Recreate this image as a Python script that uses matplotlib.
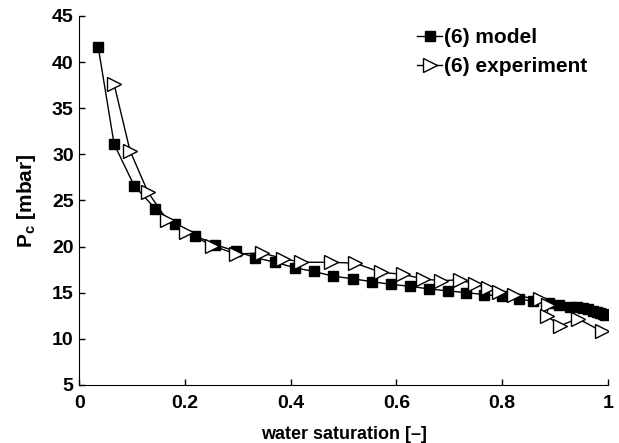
import numpy as np
import matplotlib
matplotlib.use("Agg")
import matplotlib.pyplot as plt

plt.rcParams['font.family'] = ['Liberation Sans', 'DejaVu Sans']
plt.rcParams['font.weight'] = 'bold'
plt.rcParams['mathtext.default'] = 'regular'

# model (6)
sw_model = [0.036, 0.066, 0.104, 0.144, 0.181, 0.219, 0.257, 0.297, 0.333, 0.371,
            0.408, 0.444, 0.480, 0.518, 0.554, 0.590, 0.626, 0.662, 0.698, 0.732,
            0.766, 0.800, 0.832, 0.858, 0.888, 0.907, 0.928, 0.941, 0.953, 0.962,
            0.972, 0.979, 0.985, 0.991, 0.995]
pc_model = [41.6, 31.1, 26.6, 24.1, 22.5, 21.2, 20.2, 19.5, 18.8, 18.3,
            17.7, 17.3, 16.8, 16.5, 16.2, 15.9, 15.7, 15.4, 15.2, 15.0,
            14.8, 14.6, 14.3, 14.1, 13.9, 13.7, 13.5, 13.4, 13.3, 13.2,
            13.0, 12.9, 12.8, 12.7, 12.6]

# experiment (6)
sw_exp = [0.066, 0.096, 0.130, 0.166, 0.202, 0.251, 0.297, 0.346, 0.386, 0.420,
          0.476, 0.522, 0.571, 0.612, 0.650, 0.684, 0.720, 0.749, 0.773, 0.794,
          0.822, 0.871, 0.887, 0.885, 0.909, 0.943, 0.989]
pc_exp = [37.6, 30.4, 25.9, 22.9, 21.6, 20.1, 19.2, 19.3, 18.7, 18.3,
          18.3, 18.2, 17.2, 17.0, 16.5, 16.3, 16.4, 15.9, 15.5, 15.1,
          14.7, 14.3, 13.7, 12.5, 11.4, 12.2, 10.8]

fig = plt.figure(figsize=(6.19, 4.43), dpi=100)
ax = fig.add_axes([0.128, 0.131, 0.854, 0.833])

ax.plot(sw_model, pc_model, color='k', lw=1, marker='s', ms=7,
        mfc='k', mec='k', label='(6) model')
ax.plot(sw_exp, pc_exp, color='k', lw=1, marker='>', ms=10,
        mfc='white', mec='k', mew=1, label='(6) experiment')

ax.set_xlim(0, 1)
ax.set_ylim(5, 45)
ax.set_xticks([0, 0.2, 0.4, 0.6, 0.8, 1])
ax.set_xticklabels(['0', '0.2', '0.4', '0.6', '0.8', '1'])
ax.set_yticks(np.arange(5, 46, 5))
ax.tick_params(direction='in', length=4, width=1, labelsize=14, pad=4)
ax.tick_params(axis='x', pad=7)
for lab in ax.get_xticklabels() + ax.get_yticklabels():
    lab.set_fontweight('bold')

ax.spines['top'].set_visible(False)
ax.spines['right'].set_visible(False)

ax.set_xlabel('water saturation [–]', fontsize=13, fontweight='bold', labelpad=10)
ax.set_ylabel('P$_c$ [mbar]', fontsize=15, fontweight='bold', labelpad=10)

leg = ax.legend(loc='upper right', frameon=False, fontsize=15,
                handlelength=1.2, handletextpad=0.1, labelspacing=0.45,
                borderaxespad=0.2, bbox_to_anchor=(0.985, 1.0))

fig.savefig('out.png', dpi=100)
